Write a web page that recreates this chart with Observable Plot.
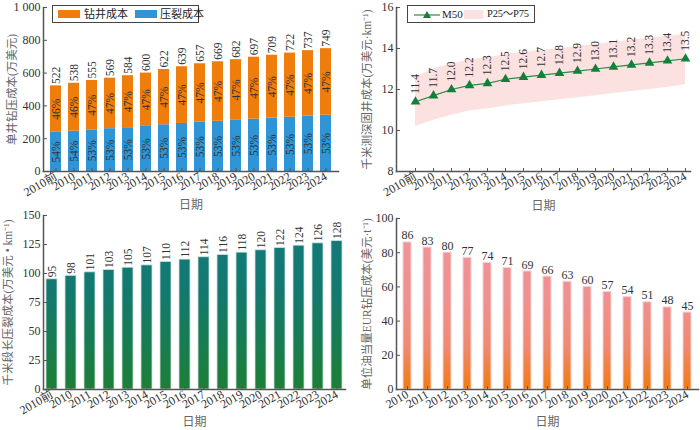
<!DOCTYPE html>
<html><head><meta charset="utf-8">
<script src="https://cdn.jsdelivr.net/npm/d3@7"></script>
<script src="https://cdn.jsdelivr.net/npm/@observablehq/plot@0.6"></script>
<style>
body{margin:0;background:#fff;}
#wrap{position:relative;width:700px;height:430px;overflow:hidden;font-family:'Liberation Serif','Noto Sans CJK SC',serif;}
.panel{position:absolute;}
.legend{position:absolute;border:1px solid #444;background:#fff;box-sizing:border-box;font-size:11px;color:#222;}
.legend span{position:absolute;white-space:nowrap;line-height:14px;}
</style></head><body><div id="wrap"></div>
<script>
// ---------- data ----------
const years = ["2010前","2010","2011","2012","2013","2014","2015","2016","2017","2018","2019","2020","2021","2022","2023","2024"];
// panel A: single-well drilling + fracturing cost (万美元)
const totalCost = [522,538,555,569,584,600,622,639,657,669,682,697,709,722,737,749];
const fracCost  = [239,246,254,261,267,275,285,293,301,306,312,319,325,331,338,343];
const drillPctLabel = [46,46,47,47,47,47,47,47,47,47,47,47,47,47,47,47];
const fracPctLabel  = [54,54,53,53,53,53,53,53,53,53,53,53,53,53,53,53];
const seriesA = ["钻井成本","压裂成本"];
const ticksA = [0,200,400,600,800,1000];
// panel B: cementing cost per km (万美元·km⁻¹)
const m50 = [11.4,11.7,12.0,12.2,12.3,12.5,12.6,12.7,12.8,12.9,13.0,13.1,13.2,13.3,13.4,13.5];
const p75 = [12.6,13.0,13.25,13.45,13.55,13.7,13.8,13.9,14.0,14.1,14.2,14.3,14.4,14.5,14.6,14.7];
const p25 = [10.2,10.5,10.75,10.95,11.05,11.2,11.3,11.4,11.5,11.6,11.7,11.8,11.9,12.0,12.1,12.25];
const ticksB = [8,10,12,14,16];
// panel C: fracturing cost per km of stage length
const fracPerKm = [95,98,101,103,105,107,110,112,114,116,118,120,122,124,126,128];
const ticksC = [0,25,50,75,100,125,150];
// panel D: cost per ton of oil-equivalent EUR (美元·t⁻¹)
const yearsD = ["2010","2011","2012","2013","2014","2015","2016","2017","2018","2019","2020","2021","2022","2023","2024"];
const eurCost = [86,83,80,77,74,71,69,66,63,60,57,54,51,48,45];
const ticksD = [0,20,40,60,80,100];

const titleA = "单井钻压成本(万美元)";
const titleB = "千米测深固井成本(万美元·km⁻¹)";
const titleC = "千米段长压裂成本(万美元 • km⁻¹)";
const titleD = "单位油当量EUR钻压成本(美元·t⁻¹)";
const xTitle = "日期";

// ---------- styles ----------
const FONT = "'Liberation Serif','Noto Sans CJK SC',serif";
const AX = "#555";
const baseStyle = {fontFamily: FONT, fontSize: "11.5px", background: "transparent", color: "#333", overflow: "visible"};
const frameLines = () => [
  Plot.frame({anchor: "left", stroke: AX, strokeWidth: 1.5}),
  Plot.frame({anchor: "bottom", stroke: AX, strokeWidth: 1.5})
];
const yAxis = (ticks, fmt) => Plot.axisY({ticks, tickSize: -4, tickPadding: 7, tickFormat: fmt, label: null, stroke: AX, fontSize: 12});
const xAxis = () => Plot.axisX({tickSize: -3, tickPadding: 7, tickRotate: -30, label: null, stroke: AX, fontSize: 12});
const yTitle = (t, dx) => Plot.text([t], {frameAnchor: "left", textAnchor: "middle", lineAnchor: "middle", rotate: -90, dx, fill: "#666", fontSize: 11.5});
const xTitleMark = (dy) => Plot.text([xTitle], {frameAnchor: "bottom", textAnchor: "middle", lineAnchor: "middle", dy, fill: "#666", fontSize: 12});

const wrap = document.getElementById("wrap");
function place(svg, left, top) {
  const d = document.createElement("div");
  d.className = "panel"; d.style.left = left + "px"; d.style.top = top + "px";
  d.appendChild(svg); wrap.appendChild(d);
  return svg;
}
function addGradient(svg, id, y1, y2, stops) {
  const defs = d3.select(svg).insert("defs", ":first-child");
  const g = defs.append("linearGradient").attr("id", id).attr("gradientUnits", "userSpaceOnUse")
    .attr("x1", 0).attr("x2", 0).attr("y1", y1).attr("y2", y2);
  stops.forEach(([o, c]) => g.append("stop").attr("offset", o).attr("stop-color", c));
}

// ---------- panel A ----------
const longA = [];
years.forEach((y, i) => {
  longA.push({year: y, part: seriesA[1], value: fracCost[i], label: fracPctLabel[i] + "%"});
  longA.push({year: y, part: seriesA[0], value: totalCost[i] - fracCost[i], label: drillPctLabel[i] + "%"});
});
const totalsA = years.map((y, i) => ({year: y, total: totalCost[i]}));
place(Plot.plot({
  width: 350, height: 215, marginTop: 7, marginBottom: 44, marginLeft: 43, marginRight: 12,
  style: baseStyle,
  x: {domain: years, paddingInner: 0.39, paddingOuter: 0.1},
  y: {domain: [0, 1000]},
  color: {domain: seriesA, range: ["#ee7d0c", "#2f95d7"]},
  marks: [
    Plot.barY(longA, {x: "year", y: "value", fill: "part"}),
    Plot.text(longA, Plot.stackY({x: "year", y: "value", text: "label", rotate: -90, fill: "#333", fontSize: 11.5})),
    Plot.text(totalsA, {x: "year", y: "total", text: d => String(d.total), rotate: -90, textAnchor: "start", dy: -2, fontSize: 11.5}),
    ...frameLines(),
    yAxis(ticksA, d => d >= 1000 ? d3.format(",")(d).replace(",", " ") : String(d)),
    xAxis(),
    yTitle(titleA, -31),
    xTitleMark(34)
  ]
}), 0, 0);

// ---------- panel B ----------
const dataB = years.map((y, i) => ({year: y, m50: m50[i], p25: p25[i], p75: p75[i]}));
place(Plot.plot({
  width: 350, height: 215, marginTop: 7, marginBottom: 44, marginLeft: 46, marginRight: 10,
  style: baseStyle,
  x: {type: "point", domain: years, padding: 0.28, align: 0.78},
  y: {domain: [8, 16]},
  marks: [
    Plot.areaY(dataB, {x: "year", y1: "p25", y2: "p75", fill: "#fce1e1"}),
    Plot.line(dataB, {x: "year", y: "m50", stroke: "#2e8b46", strokeWidth: 1.2}),
    Plot.dot(dataB, {x: "year", y: "m50", symbol: "triangle", r: 3.6, fill: "#12803a"}),
    Plot.text(dataB, {x: "year", y: "m50", text: d => d3.format(".1f")(d.m50), rotate: -90, textAnchor: "start", dy: -8, fontSize: 11.5}),
    ...frameLines(),
    yAxis(ticksB, d => String(d)),
    xAxis(),
    yTitle(titleB, -29),
    xTitleMark(35)
  ]
}), 350, 0);

// ---------- panel C ----------
const dataC = years.map((y, i) => ({year: y, v: fracPerKm[i]}));
const svgC = place(Plot.plot({
  width: 350, height: 225, marginTop: 10, marginBottom: 41, marginLeft: 43, marginRight: 5,
  style: baseStyle,
  x: {domain: years, paddingInner: 0.406, paddingOuter: 0.14},
  y: {domain: [0, 150]},
  marks: [
    Plot.barY(dataC, {x: "year", y: "v", fill: "url(#gradC)", stroke: "#cfe3de", strokeWidth: 0.8}),
    Plot.text(dataC, {x: "year", y: "v", text: d => String(d.v), rotate: -90, textAnchor: "start", dy: -2, fontSize: 11.5}),
    ...frameLines(),
    yAxis(ticksC, d => String(d)),
    xAxis(),
    yTitle(titleC, -35),
    xTitleMark(33)
  ]
}), 0, 205);
addGradient(svgC, "gradC", 10, 184, [[0, "#127a7e"], [0.45, "#13796f"], [1, "#1d7f36"]]);

// ---------- panel D ----------
const dataD = yearsD.map((y, i) => ({year: y, v: eurCost[i]}));
const svgD = place(Plot.plot({
  width: 350, height: 225, marginTop: 13, marginBottom: 41, marginLeft: 46, marginRight: 2,
  style: baseStyle,
  x: {domain: yearsD, paddingInner: 0.6, paddingOuter: 0.27},
  y: {domain: [0, 100]},
  marks: [
    Plot.barY(dataD, {x: "year", y: "v", fill: "url(#gradD)", stroke: "#f8cfcf", strokeWidth: 1}),
    Plot.text(dataD, {x: "year", y: "v", text: d => String(d.v), lineAnchor: "bottom", dy: -3, fontSize: 12}),
    ...frameLines(),
    yAxis(ticksD, d => String(d)),
    xAxis(),
    yTitle(titleD, -29),
    xTitleMark(33)
  ]
}), 350, 205);
addGradient(svgD, "gradD", 13, 184, [[0, "#f0959b"], [0.5, "#ef9090"], [0.75, "#ef8a70"], [1, "#f07b10"]]);

// ---------- legends ----------
function legendA() {
  const d = document.createElement("div");
  d.className = "legend";
  Object.assign(d.style, {left: "52px", top: "5px", width: "147px", height: "18px"});
  d.innerHTML =
    `<span style="left:5px;top:4px;width:22px;height:8px;background:#ee7d0c"></span>` +
    `<span style="left:31px;top:1px;">${seriesA[0]}</span>` +
    `<span style="left:82px;top:4px;width:22px;height:8px;background:#2f95d7"></span>` +
    `<span style="left:107px;top:1px;">${seriesA[1]}</span>`;
  wrap.appendChild(d);
}
function legendB() {
  const d = document.createElement("div");
  d.className = "legend";
  Object.assign(d.style, {left: "407px", top: "5px", width: "128px", height: "18px"});
  d.innerHTML =
    `<span style="left:6px;top:3px;"><svg width="26" height="10"><line x1="0" y1="5" x2="26" y2="5" stroke="#2e8b46" stroke-width="1.2"/><polygon points="13,1 17,8 9,8" fill="#12803a"/></svg></span>` +
    `<span style="left:34px;top:1px;">M50</span>` +
    `<span style="left:56px;top:4px;width:19px;height:9px;background:#fce1e1"></span>` +
    `<span style="left:79px;top:1px;font-size:10.5px;letter-spacing:-0.2px;">P25～P75</span>`;
  wrap.appendChild(d);
}
legendA(); legendB();
</script></body></html>
